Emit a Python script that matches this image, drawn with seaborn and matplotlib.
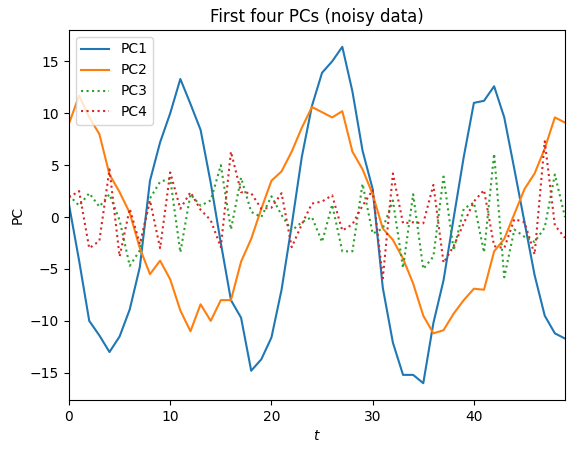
import numpy as np
import matplotlib
matplotlib.use("Agg")
import matplotlib.pyplot as plt
import seaborn as sns

t = np.arange(50)

pc1 = [1.2, -4.2, -10.0, -11.4, -13.0, -11.5, -8.9, -4.8, 3.5, 7.2,
       10.0, 13.3, 10.9, 8.4, 3.3, -2.5, -8.0, -9.7, -14.8, -13.7,
       -11.6, -7.0, -0.8, 5.8, 10.7, 13.9, 15.0, 16.4, 12.1, 6.4,
       2.7, -6.8, -12.1, -15.2, -15.2, -16.0, -10.2, -6.1, -0.1, 5.8,
       11.0, 11.2, 12.6, 9.6, 4.6, -0.5, -5.6, -9.5, -11.2, -11.7]
pc2 = [9.0, 11.7, 9.6, 8.0, 4.1, 2.4, 0.4, -3.0, -5.5, -4.2,
       -6.0, -9.0, -11.0, -8.4, -10.0, -8.0, -8.0, -4.3, -2.1, 0.8,
       3.5, 4.4, 6.3, 8.6, 10.6, 10.1, 9.6, 10.2, 6.3, 4.6,
       2.2, -1.1, -2.2, -4.0, -6.4, -9.5, -11.2, -10.9, -9.3, -8.0,
       -6.9, -7.0, -3.3, -2.1, 0.3, 2.7, 4.2, 6.6, 9.6, 9.1]
pc3 = [2.1, 1.1, 2.3, 1.0, 2.2, -0.3, -4.7, -3.2, 1.8, 3.4,
       3.7, -3.4, 2.2, 1.1, 1.6, 5.0, -1.2, 3.8, 0.5, 0.0,
       2.0, 0.2, -1.3, -0.5, 0.0, -2.4, 1.2, -3.3, -3.3, 3.2,
       -1.6, -1.1, 1.6, -4.9, 2.2, -5.0, -3.8, 3.9, -3.2, 0.8,
       1.4, -3.4, 6.1, -5.8, -1.2, -1.9, -2.4, -1.0, 4.1, 0.0]
pc4 = [1.9, 2.5, -3.0, -2.3, 4.6, -3.8, 0.8, -2.6, 1.6, -3.0,
       4.3, 0.8, 2.4, 0.7, -0.3, -2.9, 6.3, 2.4, 2.3, 0.8,
       0.9, 2.3, -2.9, -0.7, 1.3, 1.5, 2.1, -1.3, -0.7, 1.1,
       2.6, -5.9, 4.2, -0.6, -0.5, -0.6, 3.1, -4.4, -2.8, -0.6,
       1.5, 2.6, -2.8, -3.0, -0.2, -0.5, -3.6, 7.3, -0.8, -2.0]

fig = plt.figure(figsize=(5.74, 4.53), dpi=100)
ax = fig.add_axes([0.1202, 0.117, 0.8641, 0.8168])

sns.lineplot(x=t, y=pc1, color="C0", label="PC1", ax=ax)
sns.lineplot(x=t, y=pc2, color="C1", label="PC2", ax=ax)
sns.lineplot(x=t, y=pc3, color="C2", linestyle=":", label="PC3", ax=ax)
sns.lineplot(x=t, y=pc4, color="C3", linestyle=":", label="PC4", ax=ax)

ax.set_xlim(0, 49)
ax.set_title("First four PCs (noisy data)")
ax.set_xlabel("$t$")
ax.set_ylabel("PC")
ax.legend(loc="upper left")

fig.savefig("out.png", dpi=100)
